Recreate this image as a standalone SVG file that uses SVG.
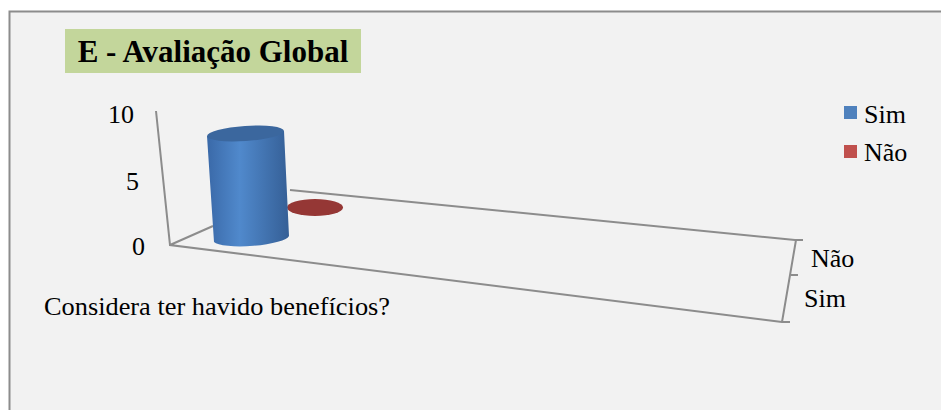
<svg xmlns="http://www.w3.org/2000/svg" width="941" height="410" viewBox="0 0 941 410">
<style>
.ax{stroke:#8c8c8c;stroke-width:2;fill:none}
.t{font-family:"Liberation Serif","Times New Roman",serif;font-size:26px;fill:#000}
</style>
<defs>
<linearGradient id="cyl" x1="0" y1="0" x2="1" y2="0">
<stop offset="0" stop-color="#3a69a8"/>
<stop offset="0.4" stop-color="#5089cc"/>
<stop offset="1" stop-color="#355f96"/>
</linearGradient>
</defs>
<rect x="0" y="0" width="941" height="410" fill="#ffffff"/>
<rect x="9.5" y="11.5" width="940" height="410" fill="#f2f2f2" stroke="#8c8c8c" stroke-width="2"/>
<g id="title">
<rect x="65" y="29" width="296" height="44" fill="#c3d69b"/>
<text class="t" x="213" y="62" style="font-size:31px;font-weight:bold" text-anchor="middle">E - Avaliação Global</text>
</g>
<g id="axes">
<path class="ax" d="M156 111 L170 245 L782 322 M170 245 L213 226 M290 190 L795 240 L803 240 M796 240 L782 322 L790 322 M791 275 L798 275"/>
</g>
<g id="ylabels">
<text class="t" x="134" y="123" text-anchor="end">10</text>
<text class="t" x="139" y="190" text-anchor="end">5</text>
<text class="t" x="145" y="255" text-anchor="end">0</text>
</g>
<g id="bar-nao">
<ellipse cx="315" cy="207.5" rx="28" ry="8.5" fill="#953735"/>
</g>
<g id="bar-sim">
<path d="M207 136 L214 242 A38 8 -4 0 0 289 236 L284 131 Z" fill="url(#cyl)"/>
<ellipse cx="245.5" cy="133.5" rx="38.5" ry="7.5" transform="rotate(-4 245.5 133.5)" fill="#3b679e"/>
</g>
<g id="xlabels">
<text class="t" x="44" y="315" textLength="346" lengthAdjust="spacingAndGlyphs">Considera ter havido benefícios?</text>
<text class="t" x="811" y="267">Não</text>
<text class="t" x="804" y="307">Sim</text>
</g>
<g id="legend">
<rect x="844" y="106" width="13" height="13" fill="#4f81bd"/>
<text class="t" x="864" y="123">Sim</text>
<rect x="844" y="145" width="13" height="13" fill="#c0504d"/>
<text class="t" x="864" y="161">Não</text>
</g>
</svg>
